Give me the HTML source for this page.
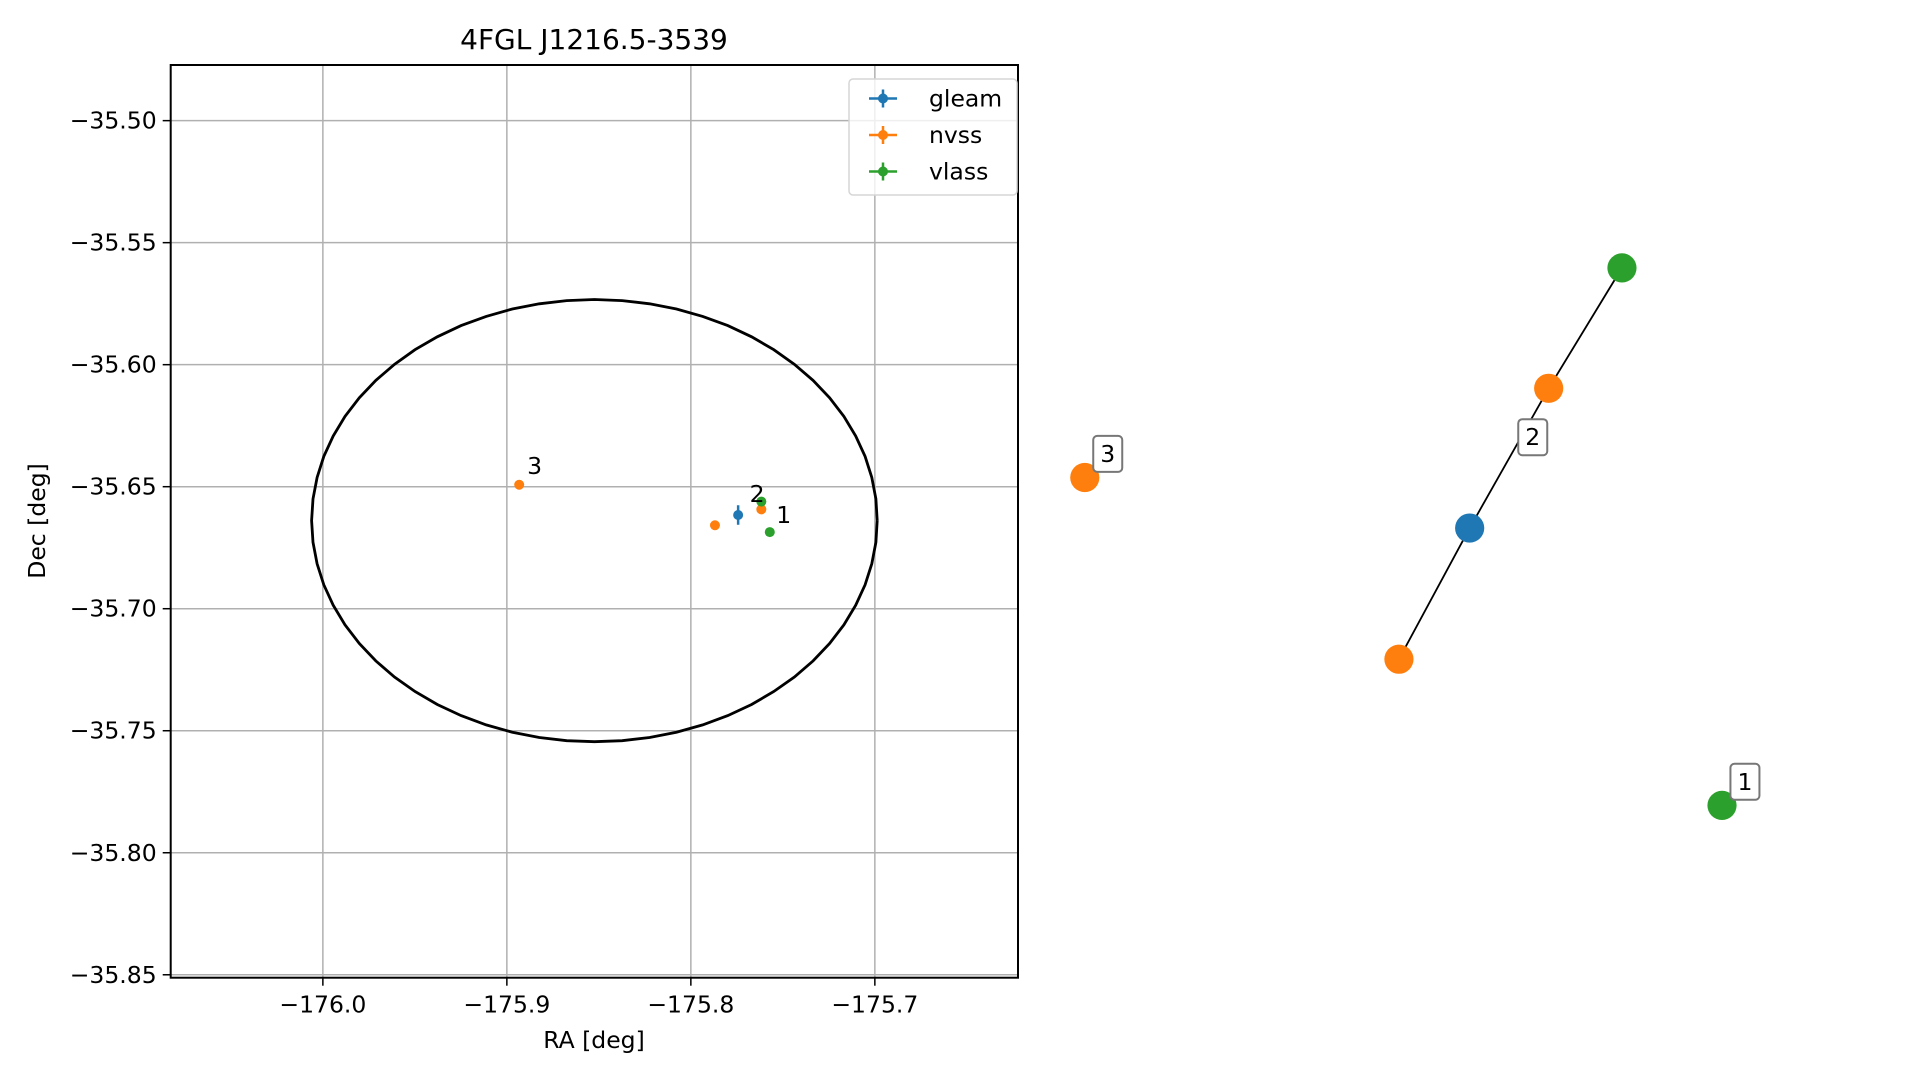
<!DOCTYPE html>
<html><head><meta charset="utf-8">
<style>
html,body{margin:0;padding:0;background:#fff;}
svg{display:block;font-family:"DejaVu Sans","Liberation Sans",sans-serif;}
</style></head>
<body>
<svg id="fig" width="1919" height="1080" viewBox="0 0 1919 1080" xmlns="http://www.w3.org/2000/svg">
<rect width="1919" height="1080" fill="#fff"/>
<g id="ax"></g>
<g id="graph"></g>
</svg>
<script>
// ---- Left panel data ----
const xTicks = [-176.0, -175.9, -175.8, -175.7];
const xTickLabels = ["\u2212176.0", "\u2212175.9", "\u2212175.8", "\u2212175.7"];
const yTicks = [-35.50, -35.55, -35.60, -35.65, -35.70, -35.75, -35.80, -35.85];
const yTickLabels = ["\u221235.50", "\u221235.55", "\u221235.60", "\u221235.65", "\u221235.70", "\u221235.75", "\u221235.80", "\u221235.85"];
const xLim = [-176.0827, -175.6222];
const yLim = [-35.8512, -35.4772];
const ellipseCenter = [-175.8524, -35.6639];
const ellipseAxes = [0.1537, 0.0906];
const gleamRA = [-175.7743];
const gleamDec = [-35.6616];
const gleamErr = [0.0040];
const nvssRA = [-175.8933, -175.7869, -175.7617];
const nvssDec = [-35.6492, -35.6658, -35.6593];
const nvssErr = [0.0006, 0.0006, 0.0006];
const vlassRA = [-175.7617, -175.7571];
const vlassDec = [-35.6561, -35.6686];
const vlassErr = [0.0003, 0.0003];
const labelText = ["3", "2", "1"];
const labelRA = [-175.8849, -175.7640, -175.7495];
const labelDec = [-35.6416, -35.6529, -35.6615];

// ---- Right panel data (graph layout units) ----
const nodeX = [0.000, 0.843, 0.728, 0.604, 0.493, 1.000];
const nodeY = [0.390, 0.000, 0.224, 0.484, 0.728, 1.000];
const nodeSurvey = ["nvss", "vlass", "nvss", "gleam", "nvss", "vlass"];
const edgeFrom = [4, 3, 2];
const edgeTo = [3, 2, 1];
const gLabelText = ["3", "2", "1"];
const gLabelX = [0.036, 0.703, 1.036];
const gLabelY = [0.346, 0.315, 0.956];

const colors = {gleam:"#1f77b4", nvss:"#ff7f0e", vlass:"#2ca02c"};
const FS = 23.5;
const NS = "http://www.w3.org/2000/svg";
const L = 170.7, R = 1018, T = 65, B = 977.7;
const sx = v => L + (v - xLim[0]) / (xLim[1] - xLim[0]) * (R - L);
const sy = v => B - (v - yLim[0]) / (yLim[1] - yLim[0]) * (B - T);
function mk(tag, attrs, parent) {
  const e = document.createElementNS(NS, tag);
  for (const k in attrs) e.setAttribute(k, attrs[k]);
  parent.appendChild(e);
  return e;
}
const ax = document.getElementById('ax');

xTicks.forEach((t, i) => {
  const g = mk('line', {x1:sx(t), x2:sx(t), y1:T, y2:B, stroke:'#b0b0b0', 'stroke-width':1.5}, ax);
  
  
  const tk = mk('line', {x1:sx(t), x2:sx(t), y1:B, y2:B+8, stroke:'#000', 'stroke-width':1.5}, ax);
  
  
  const tl = mk('text', {x:sx(t), y:B+35, 'text-anchor':'middle', 'font-size':FS, fill:'#000'}, ax);
  tl.textContent = xTickLabels[i];
  
  
});
yTicks.forEach((t, i) => {
  const g = mk('line', {x1:L, x2:R, y1:sy(t), y2:sy(t), stroke:'#b0b0b0', 'stroke-width':1.5}, ax);
  
  
  const tk = mk('line', {x1:L-8, x2:L, y1:sy(t), y2:sy(t), stroke:'#000', 'stroke-width':1.5}, ax);
  
  
  const tl = mk('text', {x:L-14, y:sy(t)+8, 'text-anchor':'end', 'font-size':FS, fill:'#000'}, ax);
  tl.textContent = yTickLabels[i];
  
  
});

let pts = [];
for (let k = 0; k <= 64; k++) {
  const a = 2 * Math.PI * k / 64;
  pts.push(sx(ellipseCenter[0] + ellipseAxes[0] * Math.cos(a)).toFixed(1) + ',' + sy(ellipseCenter[1] + ellipseAxes[1] * Math.sin(a)).toFixed(1));
}
const el = mk('polyline', {points:pts.join(' '), fill:'none', stroke:'#000', 'stroke-width':2.8}, ax);



function series(ra, dec, err, color, name) {
  ra.forEach((r, i) => {
    const eb = mk('line', {x1:sx(r), x2:sx(r), y1:sy(dec[i]-err[i]), y2:sy(dec[i]+err[i]), stroke:color, 'stroke-width':2.5}, ax);
    
    
    const c = mk('circle', {cx:sx(r), cy:sy(dec[i]), r:5, fill:color}, ax);
    
    
  });
}
series(gleamRA, gleamDec, gleamErr, colors.gleam, 'gleam');
series(nvssRA, nvssDec, nvssErr, colors.nvss, 'nvss');
series(vlassRA, vlassDec, vlassErr, colors.vlass, 'vlass');
labelText.forEach((t, i) => {
  const tx = mk('text', {x:sx(labelRA[i]), y:sy(labelDec[i])+8, 'text-anchor':'middle', 'font-size':FS, fill:'#000'}, ax);
  tx.textContent = t;
  
  
});

const sp = mk('rect', {x:L, y:T, width:R-L, height:B-T, fill:'none', stroke:'#000', 'stroke-width':2}, ax);



const lg = mk('g', {}, ax);


mk('rect', {x:849, y:79, width:168, height:116, rx:4, fill:'#fff', 'fill-opacity':0.8, stroke:'#d6d6d6', 'stroke-width':1.5}, lg);
['gleam','nvss','vlass'].forEach((s, i) => {
  const yy = 98.5 + i * 36.5;
  const e = mk('g', {}, lg);
  
  
  mk('line', {x1:869, x2:897, y1:yy, y2:yy, stroke:colors[s], 'stroke-width':2.5}, e);
  mk('line', {x1:883, x2:883, y1:yy-9, y2:yy+9, stroke:colors[s], 'stroke-width':2.5}, e);
  mk('circle', {cx:883, cy:yy, r:5, fill:colors[s]}, e);
  const t = mk('text', {x:929, y:yy+8, 'font-size':FS, fill:'#000'}, e);
  t.textContent = s;
});

const ti = mk('text', {x:594, y:49, 'text-anchor':'middle', 'font-size':28, fill:'#000'}, ax);
ti.textContent = '4FGL J1216.5-3539';


const xl = mk('text', {x:594, y:1048, 'text-anchor':'middle', 'font-size':FS, fill:'#000'}, ax);
xl.textContent = 'RA [deg]';


const yl = mk('text', {x:0, y:0, 'text-anchor':'middle', 'font-size':FS, fill:'#000', transform:'translate(45,521) rotate(-90)'}, ax);
yl.textContent = 'Dec [deg]';



// ---- right graph ----
const gr = document.getElementById('graph');
const GX0 = 1084.8, GW = 637.2, GY0 = 267.9, GH = 537.5;
const gx = v => GX0 + v * GW;
const gy = v => GY0 + v * GH;
edgeFrom.forEach((f, i) => {
  const ln = mk('line', {x1:gx(nodeX[f]), y1:gy(nodeY[f]), x2:gx(nodeX[edgeTo[i]]), y2:gy(nodeY[edgeTo[i]]), stroke:'#000', 'stroke-width':1.8}, gr);
  
  
});
nodeX.forEach((x, i) => {
  const c = mk('circle', {cx:gx(x), cy:gy(nodeY[i]), r:14.6, fill:colors[nodeSurvey[i]]}, gr);
  
  
});
gLabelText.forEach((t, i) => {
  const g = mk('g', {}, gr);
  
  
  const cx = gx(gLabelX[i]), cy = gy(gLabelY[i]);
  mk('rect', {x:cx-14.5, y:cy-18, width:29, height:36, rx:4, fill:'#fff', stroke:'#777', 'stroke-width':2}, g);
  const tx = mk('text', {x:cx, y:cy+8, 'text-anchor':'middle', 'font-size':FS, fill:'#000'}, g);
  tx.textContent = t;
});
</script>
</body></html>
